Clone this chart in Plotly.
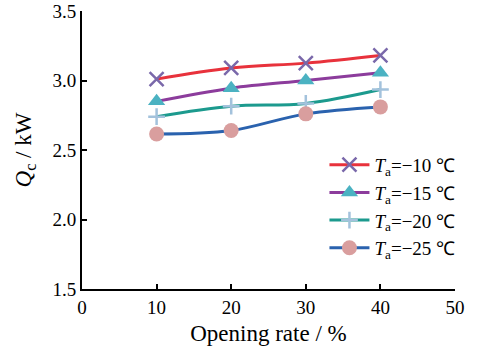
import plotly.graph_objects as go

opening = [10, 20, 30, 40]
q_m10 = [3.01, 3.09, 3.125, 3.18]
q_m15 = [2.85, 2.945, 3.0, 3.055]
q_m20 = [2.74, 2.815, 2.835, 2.935]
q_m25 = [2.615, 2.64, 2.76, 2.81]
labels = ["−10", "−15", "−20", "−25"]

series = [
    (q_m10, "#e8323c", "x-thin", "#7a68aa", 14),
    (q_m15, "#8c3c9c", "triangle-up", "#4bb2c2", 15),
    (q_m20, "#1c9a8e", "cross-thin", "#a3c2dc", 12),
    (q_m25, "#2a62ae", "circle", "#d99e9e", 15),
]

fig = go.Figure()
for (vals, lc, sym, mc, ms), lab in zip(series, labels):
    thin = sym.endswith("thin")
    fig.add_trace(go.Scatter(
        x=opening, y=vals, mode="lines+markers",
        name=f"<i>T</i><sub>a</sub>={lab} ℃",
        line=dict(color=lc, width=3, shape="spline"),
        marker=dict(symbol=sym, size=ms, color=mc,
                    line=dict(color=mc, width=2.5 if thin else 0)),
    ))

font = "Liberation Serif, Times New Roman, serif"
fig.update_layout(
    width=478, height=355,
    margin=dict(l=82, r=23, t=11, b=66, autoexpand=False),
    paper_bgcolor="white", plot_bgcolor="white",
    font=dict(family=font, size=19, color="black"),
    showlegend=True,
    legend=dict(x=0.65, y=0.515, xanchor="left", yanchor="top",
                bgcolor="rgba(0,0,0,0)", font=dict(size=19),
                tracegroupgap=0, itemwidth=40),
    xaxis=dict(range=[0, 50], tickvals=[0, 10, 20, 30, 40, 50],
               showgrid=False, zeroline=False, showline=True,
               linecolor="black", linewidth=2, ticks="inside",
               ticklen=5, tickwidth=1.5, tickcolor="black",
               automargin=False,
               title=dict(text="Opening rate / %", standoff=8)),
    yaxis=dict(range=[1.5, 3.5], tickvals=[1.5, 2.0, 2.5, 3.0, 3.5],
               ticktext=["1.5", "2.0", "2.5", "3.0", "3.5"],
               showgrid=False, zeroline=False, showline=True,
               linecolor="black", linewidth=2, ticks="inside",
               ticklen=5, tickwidth=1.5, tickcolor="black",
               automargin=False,
               title=dict(text="<i>Q</i><sub>c</sub> / kW", standoff=14)),
)

fig.write_html("out.html")
